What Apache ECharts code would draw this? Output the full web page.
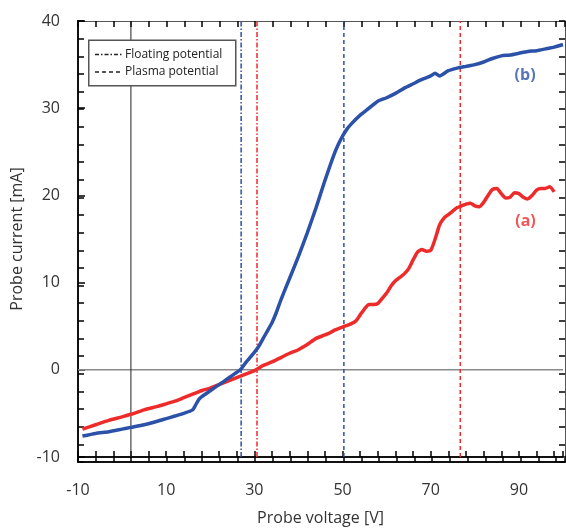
<!DOCTYPE html>
<html>
<head>
<meta charset="utf-8">
<script src="https://cdn.jsdelivr.net/npm/echarts@6/dist/echarts.min.js"></script>
<style>
html,body{margin:0;padding:0;background:#fff;}
#chart{width:566px;height:531px;}
</style>
</head>
<body>
<div id="chart"></div>
<script>
// Probe voltage [V] and probe current [mA], curve (b) (blue)
const voltageB = [-9,-6,-3,0,2,5,8,10,12,14,16,16.6,17.4,18,20,22,24,26,27,28,30,31,32,33,34,35,36,38,40,42,44,46,48,49,50,51,52,54,56,58,60,62,64,66,68,70,71,72,74,76,78,80,82,84,86,88,90,92,94,96,98,100];
const currentB = [-7.6,-7.3,-7.1,-6.8,-6.6,-6.3,-5.9,-5.6,-5.3,-5.0,-4.6,-4.1,-3.4,-3.1,-2.4,-1.7,-1.0,-0.3,0.1,0.8,2.0,2.7,3.6,4.5,5.4,6.6,8.0,10.5,13.0,15.7,18.6,21.7,24.6,25.8,26.8,27.6,28.2,29.2,30.0,30.8,31.2,31.7,32.3,32.8,33.3,33.7,34.0,33.7,34.3,34.6,34.8,35.0,35.3,35.7,36.0,36.1,36.3,36.5,36.6,36.8,37.0,37.3];
// curve (a) (red)
const voltageA = [-9,-6,-3,0,2,5,8,10,12,14,16,18,20,22,24,26,28,30,31,32,34,36,38,40,41,42,44,46,47,48,50,52,53,54,55,56,57,58,59,60,61,62,63,64,65,66,67,68,69,70,71,72,73,74,75,76,77,78,79,80,81,82,83,84,85,86,87,88,89,90,91,92,93,94,95,96,97,98];
const currentA = [-6.8,-6.3,-5.8,-5.4,-5.1,-4.6,-4.2,-3.9,-3.6,-3.2,-2.8,-2.4,-2.1,-1.7,-1.3,-0.9,-0.5,-0.1,0.2,0.5,0.9,1.4,1.9,2.3,2.6,2.9,3.6,4.0,4.2,4.5,4.9,5.3,5.6,6.3,7.0,7.5,7.5,7.6,8.2,8.8,9.6,10.2,10.6,11.0,11.6,12.6,13.5,13.8,13.6,13.7,15.0,16.6,17.4,17.8,18.2,18.6,18.8,19.0,19.1,18.8,18.7,19.2,20.0,20.7,20.8,20.2,19.7,19.8,20.3,20.2,19.8,19.6,20.0,20.6,20.8,20.8,21.0,20.4];
// Floating and plasma potentials [V] for (b) and (a)
const floatingPot = {b: 27, a: 30.6};
const plasmaPot = {b: 50.3, a: 76.7};
const zeroVoltageLine = 2;
// Curve labels: [voltage, current]
const labelB = [91.4, 33.8];
const labelA = [91.5, 17.0];
// Axis ranges / ticks
const X_MIN = -10, X_MAX = 100, X_MINOR = 4;
const Y_MIN = -10, Y_MAX = 40, Y_STEP = 10, Y_MINOR = 2;
const xTickLabels = [-10, 10, 30, 50, 70, 90];

const BLUE = '#2b51a8', RED = '#ee2b2b';
// Shift so the axis starts at 0 (lets ticks start at -10)
const OFF = -X_MIN;
const pts = (xs, ys) => xs.map((x, i) => [x + OFF, ys[i]]);
const vline = (v) => [[v + OFF, Y_MIN], [v + OFF, Y_MAX]];

function refSeries(v, color, type, width) {
  return {
    type: 'line', data: vline(v), symbol: 'none',
    lineStyle: {color: color, width: width, type: type}
  };
}
const DASHDOT = [5, 2, 1.5, 2];
const DASH = [4, 3];

const chart = echarts.init(document.getElementById('chart'));
const font = '"Open Sans", "Liberation Sans", sans-serif';
const GRID = {left: 78, right: 1, top: 21, bottom: 69};
const ts = () => ({color: '#000', width: 1.5});

// Tick-only frame axes on an overlay grid
function frameX(pos, lineColor, lineWidth) {
  return {
    gridIndex: 1, type: 'value', min: 0, max: X_MAX - X_MIN, interval: X_MINOR, position: pos,
    splitLine: {show: false},
    axisLine: {show: true, onZero: false, lineStyle: {color: lineColor, width: lineWidth}},
    axisTick: {show: true, inside: true, length: 6, lineStyle: {color: 'black', width: 1.5}},
    axisLabel: {show: false}
  };
}
function frameY(pos, lineColor, lineWidth) {
  return {
    gridIndex: 1, type: 'value', min: Y_MIN, max: Y_MAX, interval: Y_MINOR, position: pos,
    splitLine: {show: false},
    axisLine: {show: true, onZero: false, lineStyle: {color: lineColor, width: lineWidth}},
    axisTick: {show: true, inside: true, length: 6, lineStyle: {color: 'black', width: 1.5}},
    axisLabel: {show: false}
  };
}

chart.setOption({
  animation: false,
  grid: [Object.assign({}, GRID), Object.assign({}, GRID)],
  xAxis: [
    {
      type: 'value', min: 0, max: X_MAX - X_MIN, interval: X_MINOR, splitLine: {show: false},
      position: 'bottom',
      axisLine: {show: true, onZero: false, lineStyle: {color: '#111', width: 2}},
      axisTick: {show: true, inside: true, length: 6, lineStyle: ts()},
      axisLabel: {
        show: true, margin: 25, fontSize: 16, color: '#333', fontFamily: font,
        formatter: (u) => { const v = Math.round(u - OFF); return xTickLabels.includes(v) ? String(v) : ''; }
      },
      name: 'Probe voltage [V]', nameLocation: 'middle', nameGap: 53,
      nameTextStyle: {fontSize: 16, color: '#333', fontFamily: font}
    },
    frameX('bottom', '#111', 2),
    frameX('top', '#555', 1)
  ],
  yAxis: [
    {
      type: 'value', position: 'left', min: Y_MIN, max: Y_MAX, interval: Y_STEP,
      splitLine: {show: false},
      axisLine: {show: true, onZero: false, lineStyle: {color: '#111', width: 2}},
      axisTick: {show: true, inside: true, length: 7, lineStyle: ts()},
      axisLabel: {show: true, margin: 18, fontSize: 16, color: '#333', fontFamily: font},
      name: 'Probe current [mA]', nameLocation: 'middle', nameGap: 50, nameRotate: 90,
      nameTextStyle: {fontSize: 16, color: '#333', fontFamily: font}
    },
    frameY('left', '#111', 2),
    frameY('right', '#555', 1)
  ],
  series: [
    {
      type: 'line', data: [[0, 0], [X_MAX - X_MIN, 0]], symbol: 'none',
      lineStyle: {color: '#8a8a8a', width: 1.5}
    },
    refSeries(zeroVoltageLine, '#222', 'solid', 1),
    refSeries(floatingPot.b, BLUE, DASHDOT, 1.5),
    refSeries(floatingPot.a, RED, DASHDOT, 1.5),
    refSeries(plasmaPot.b, BLUE, DASH, 1.5),
    refSeries(plasmaPot.a, RED, DASH, 1.5),
    {
      name: '(a)', type: 'line', data: pts(voltageA, currentA), symbol: 'none',
      smooth: 0.2, lineStyle: {color: RED, width: 3.5}
    },
    {
      name: '(b)', type: 'line', data: pts(voltageB, currentB), symbol: 'none',
      smooth: 0.2, lineStyle: {color: BLUE, width: 3.5}
    },
    {
      type: 'scatter', symbolSize: 0,
      data: [
        {value: [labelB[0] + OFF, labelB[1]], label: {show: true, position: 'inside', formatter: '(b)', color: BLUE, fontSize: 16, fontWeight: 'bold', fontFamily: font}},
        {value: [labelA[0] + OFF, labelA[1]], label: {show: true, position: 'inside', formatter: '(a)', color: RED, fontSize: 16, fontWeight: 'bold', fontFamily: font}}
      ]
    },
    {
      type: 'line', xAxisIndex: 1, yAxisIndex: 1, data: [], symbol: 'none'
    }
  ],
  graphic: [
    {type: 'rect', left: 88, top: 39.5, z: 100, shape: {width: 147, height: 45.5},
     style: {fill: '#fff', stroke: '#555', lineWidth: 1.5}},
    {type: 'line', z: 101, shape: {x1: 95, y1: 54.5, x2: 122, y2: 54.5},
     style: {stroke: '#222', lineWidth: 1.5, lineDash: [4, 2, 1.5, 2]}},
    {type: 'line', z: 101, shape: {x1: 95, y1: 72, x2: 122, y2: 72},
     style: {stroke: '#222', lineWidth: 1.5, lineDash: [4, 3]}},
    {type: 'text', z: 101, x: 125, y: 54.5,
     style: {text: 'Floating potential', fill: '#222', font: '12px ' + font, verticalAlign: 'middle'}},
    {type: 'text', z: 101, x: 125, y: 72,
     style: {text: 'Plasma potential', fill: '#222', font: '12px ' + font, verticalAlign: 'middle'}}
  ]
});
</script>
</body>
</html>
